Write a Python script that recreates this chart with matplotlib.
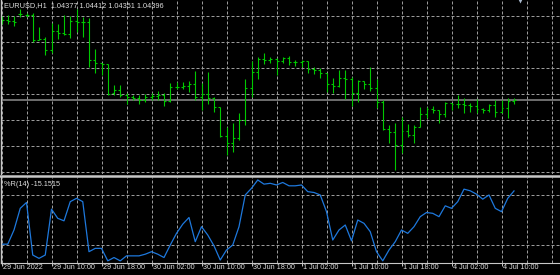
import numpy as np
import matplotlib
matplotlib.use("Agg")
import matplotlib.pyplot as plt
import matplotlib.transforms as mtransforms
from matplotlib.collections import LineCollection
from matplotlib.lines import Line2D

# EURUSD H1, 29 Jun 2022 02:00 .. 4 Jul 2022 12:00 (83 bars)
opens = [1.05181, 1.05191, 1.05181, 1.05251, 1.05241, 1.05241, 1.04991, 1.05001, 1.04891, 1.05081,
         1.05061, 1.05051, 1.05181, 1.05171, 1.05171, 1.04791, 1.04761, 1.04751, 1.04461, 1.04491,
         1.04441, 1.04421, 1.04411, 1.04391, 1.04421, 1.04431, 1.04441, 1.04381, 1.04521, 1.04521,
         1.04531, 1.04551, 1.04421, 1.04451, 1.04411, 1.04321, 1.04031, 1.03961, 1.04011, 1.04191,
         1.04511, 1.04671, 1.04801, 1.04791, 1.04801, 1.04781, 1.04811, 1.04771, 1.04771, 1.04781,
         1.04701, 1.04691, 1.04661, 1.04551, 1.04531, 1.04611, 1.04601, 1.04461, 1.04581, 1.04551,
         1.04511, 1.04371, 1.04101, 1.04071, 1.03941, 1.04081, 1.04041, 1.04121, 1.04251, 1.04301,
         1.04291, 1.04251, 1.04361, 1.04351, 1.04351, 1.04341, 1.04331, 1.04301, 1.04291, 1.04341,
         1.04271, 1.04311, 1.04377]
highs = [1.05231, 1.05241, 1.05231, 1.05301, 1.05261, 1.05261, 1.05121, 1.05021, 1.05161, 1.05151,
         1.05241, 1.05231, 1.05301, 1.05221, 1.05211, 1.04901, 1.04761, 1.04751, 1.04541, 1.04541,
         1.04461, 1.04441, 1.04441, 1.04451, 1.04461, 1.04481, 1.04461, 1.04561, 1.04571, 1.04571,
         1.04581, 1.04681, 1.04561, 1.04671, 1.04421, 1.04321, 1.04121, 1.04161, 1.04261, 1.04601,
         1.04781, 1.04821, 1.04861, 1.04821, 1.04811, 1.04821, 1.04831, 1.04791, 1.04791, 1.04781,
         1.04721, 1.04711, 1.04661, 1.04611, 1.04691, 1.04691, 1.04621, 1.04591, 1.04581, 1.04721,
         1.04601, 1.04391, 1.04141, 1.04161, 1.04221, 1.04151, 1.04141, 1.04321, 1.04321, 1.04331,
         1.04291, 1.04371, 1.04361, 1.04441, 1.04411, 1.04361, 1.04401, 1.04311, 1.04351, 1.04391,
         1.04391, 1.04411, 1.04412]
lows = [1.05151, 1.05151, 1.05131, 1.05221, 1.05221, 1.04971, 1.04991, 1.04841, 1.04861, 1.05001,
        1.05041, 1.05011, 1.05071, 1.05021, 1.04721, 1.04661, 1.04641, 1.04441, 1.04441, 1.04421,
        1.04351, 1.04391, 1.04351, 1.04371, 1.04391, 1.04391, 1.04331, 1.04371, 1.04501, 1.04501,
        1.04471, 1.04391, 1.04291, 1.04351, 1.04271, 1.04021, 1.03841, 1.03871, 1.03991, 1.04141,
        1.04421, 1.04601, 1.04751, 1.04761, 1.04641, 1.04761, 1.04741, 1.04731, 1.04721, 1.04661,
        1.04651, 1.04611, 1.04471, 1.04461, 1.04521, 1.04401, 1.04331, 1.04371, 1.04501, 1.04481,
        1.04311, 1.04091, 1.03961, 1.03691, 1.03861, 1.04021, 1.03961, 1.04121, 1.04211, 1.04261,
        1.04161, 1.04221, 1.04291, 1.04311, 1.04261, 1.04271, 1.04261, 1.04261, 1.04271, 1.04221,
        1.04261, 1.04211, 1.04351]
closes = [1.05191, 1.05181, 1.05171, 1.05251, 1.05241, 1.04991, 1.05001, 1.04891, 1.05081, 1.05061,
          1.05051, 1.05181, 1.05171, 1.05171, 1.04791, 1.04761, 1.04751, 1.04451, 1.04491, 1.04441,
          1.04421, 1.04411, 1.04391, 1.04421, 1.04431, 1.04441, 1.04381, 1.04521, 1.04521, 1.04531,
          1.04551, 1.04421, 1.04451, 1.04411, 1.04321, 1.04031, 1.03961, 1.04011, 1.04191, 1.04511,
          1.04671, 1.04801, 1.04791, 1.04801, 1.04781, 1.04811, 1.04771, 1.04771, 1.04781, 1.04701,
          1.04691, 1.04661, 1.04551, 1.04531, 1.04611, 1.04601, 1.04461, 1.04581, 1.04551, 1.04511,
          1.04371, 1.04101, 1.04071, 1.03941, 1.04081, 1.04041, 1.04121, 1.04251, 1.04301, 1.04291,
          1.04251, 1.04361, 1.04351, 1.04351, 1.04341, 1.04331, 1.04301, 1.04291, 1.04341, 1.04271,
          1.04311, 1.04377, 1.04396]

# Williams %R(14)
wpr = [-79, -79, -62, -36, -29, -92, -96, -92, -37, -48,
       -51, -28, -24, -28, -88, -84, -84, -99, -95, -99,
       -93, -93, -93, -91, -88, -91, -95, -80, -66, -55,
       -47, -76, -58, -68, -81, -98, -86, -80, -58, -20,
       -12, -2, -7, -6, -8, -5, -9, -9, -8, -16,
       -17, -20, -40, -74, -62, -56, -75, -50, -54, -64,
       -88, -99, -86, -76, -62, -66, -58, -46, -41, -42,
       -46, -33, -36, -28, -13, -15, -19, -25, -20, -36,
       -40, -24, -15.1515]

time_labels = ["29 Jun 2022", "29 Jun 10:00", "29 Jun 18:00", "30 Jun 02:00", "30 Jun 10:00",
               "30 Jun 18:00", "1 Jul 02:00", "1 Jul 10:00", "1 Jul 18:00", "4 Jul 02:00", "4 Jul 10:00"]
wpr_levels = [-20, -80]

BG = "black"
BAR = "#00c800"
GRID = "#9a9a9a"
TXT = "#dcdcdc"
BORDER = "#c8c8c8"
WPR_COL = "#1e78dc"
FONT = "Liberation Sans"

W, H = 560, 275
PX = 6.25  # pixels per bar
fig = plt.figure(figsize=(W / 100, H / 100), dpi=100, facecolor=BG)


def px_axes(left, top, right, bottom):
    return fig.add_axes([left / W, 1 - bottom / H, (right - left) / W, (bottom - top) / H])


ax = px_axes(1, 0, 560, 174)
sub = px_axes(1, 177, 560, 262.5)

n = len(closes)
x = np.arange(n)
xlim = (-0.5 / PX, -0.5 / PX + 559 / PX)

# price bars
t = 0.32
hl = [((i, lows[i]), (i, highs[i])) for i in range(n)]
op = [((i - t, opens[i]), (i, opens[i])) for i in range(n)]
cl = [((i, closes[i]), (i + t, closes[i])) for i in range(n)]
ax.add_collection(LineCollection(hl + op + cl, colors=BAR, linewidths=0.8))

# bid line
ax.axhline(closes[-1], color="#8c8c8c", lw=1.1, zorder=1)

# chart shift marker
ax.plot([n], [1], marker="v", ms=4, color="#a8b8cc", mec="none",
        transform=mtransforms.blended_transform_factory(ax.transData, ax.transAxes),
        clip_on=False)

ax.set_xlim(*xlim)
ax.set_ylim(1.03651, 1.05391)
ax.set_yticks(1.05229 - 0.00259 * np.arange(7))

sub.plot(x, wpr, color=WPR_COL, lw=0.9)
sub.set_xlim(*xlim)
sub.set_ylim(-100.96, 1.56)
sub.set_yticks(wpr_levels)

label_pos = np.arange(0, n, 8)
for a in (ax, sub):
    a.set_facecolor(BG)
    a.set_xticks(np.arange(0, 90, 4), minor=True)
    a.set_xticks(label_pos)
    a.grid(True, which="both", color=GRID, linestyle=(0, (3, 2)), lw=0.72)
    a.set_axisbelow(True)
    for s in ("top", "right", "bottom"):
        a.spines[s].set_visible(False)
    a.spines["left"].set_color(BORDER)
    a.spines["left"].set_linewidth(1.0)
    a.tick_params(which="both", length=0, labelbottom=False, labelleft=False)

sub.spines["bottom"].set_visible(True)
sub.spines["bottom"].set_color(BORDER)
sub.spines["bottom"].set_linewidth(0.8)
sub.tick_params(axis="x", which="major", length=2.5, width=0.7, color=BORDER, direction="out")

# window separator
fig.add_artist(Line2D([0, 1], [1 - 175.5 / H] * 2, color=BORDER, lw=1.8,
                      transform=fig.transFigure))

# time labels
off = mtransforms.ScaledTranslation(1.5 / 100, -5 / 100, fig.dpi_scale_trans)
trans = mtransforms.blended_transform_factory(sub.transData, sub.transAxes) + off
for pos, lab in zip(label_pos, time_labels):
    sub.text(pos, 0, lab, transform=trans, ha="left", va="center",
             color=TXT, fontsize=5.2, family=FONT, clip_on=False)

fig.text(4 / W, 1 - 6 / H, "EURUSD,H1  1.04377 1.04412 1.04351 1.04396",
         ha="left", va="center", color=TXT, fontsize=5.3, family=FONT)
fig.text(4 / W, 1 - 184 / H, "%R(14) -15.1515",
         ha="left", va="center", color=TXT, fontsize=5.3, family=FONT)

fig.savefig("out.png", dpi=100, facecolor=BG)
